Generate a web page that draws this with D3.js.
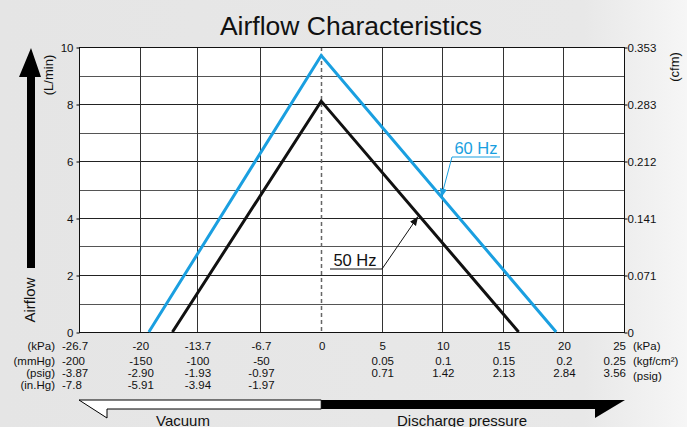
<!DOCTYPE html>
<html>
<head>
<meta charset="utf-8">
<script src="https://cdn.jsdelivr.net/npm/d3@7"></script>
<style>
  body { margin: 0; }
  svg { display: block; font-family: "Liberation Sans", Arial, sans-serif; }
</style>
</head>
<body>
<svg id="chart" width="687" height="427"></svg>
<script>
const width = 687;
const height = 427;
const margin = { top: 47, right: 63, bottom: 95, left: 79 };

// x ticks (kPa) and the extra unit rows under them
const kpaTicks = [-26.7, -20, -13.7, -6.7, 0, 5, 10, 15, 20, 25];
const kpaLabels = ["-26.7", "-20", "-13.7", "-6.7", "0", "5", "10", "15", "20", "25"];
const mmHgLabels = ["-200", "-150", "-100", "-50"];
const psigVacLabels = ["-3.87", "-2.90", "-1.93", "-0.97"];
const inHgLabels = ["-7.8", "-5.91", "-3.94", "-1.97"];
const kgfLabels = ["0.05", "0.1", "0.15", "0.2", "0.25"];
const psigLabels = ["0.71", "1.42", "2.13", "2.84", "3.56"];

const yTicks = [0, 2, 4, 6, 8, 10];
const cfmLabels = ["0", "0.071", "0.141", "0.212", "0.283", "0.353"];

// airflow (L/min) vs pressure (kPa)
const hz60 = [
  { p: -19.0, q: 0 },
  { p: 0, q: 9.7 },
  { p: 19.4, q: 0 },
];
const hz50 = [
  { p: -16.4, q: 0 },
  { p: 0, q: 8.1 },
  { p: 16.3, q: 0 },
];

const svg = d3.select("#chart");

// background
const defs = svg.append("defs");
const grad = defs.append("linearGradient")
  .attr("id", "bg").attr("x1", "0").attr("x2", "1").attr("y1", "0").attr("y2", "0");
grad.append("stop").attr("offset", "0").attr("stop-color", "#e5e5e5");
grad.append("stop").attr("offset", "0.85").attr("stop-color", "#e8e8e8");
grad.append("stop").attr("offset", "1").attr("stop-color", "#f6f6f6");
svg.append("rect").attr("width", width).attr("height", height).attr("fill", "url(#bg)");

const x0 = margin.left;
const x1 = width - margin.right;
const y0 = height - margin.bottom;
const y1 = margin.top;

// vacuum side is 4 columns, discharge side 5 columns
const colW = (x1 - x0) / 9;
const x = d3.scaleLinear()
  .domain([-26.7, 0, 25])
  .range([x0, x0 + 4 * colW, x1]);
const y = d3.scaleLinear().domain([0, 10]).range([y0, y1]);

svg.append("rect")
  .attr("x", x0).attr("y", y1)
  .attr("width", x1 - x0).attr("height", y0 - y1)
  .attr("fill", "#fff");

// grid
const grid = svg.append("g");
grid.selectAll(".hgrid")
  .data(d3.range(1, 10))
  .enter()
  .append("line")
  .attr("x1", x0).attr("x2", x1)
  .attr("y1", (d) => Math.round(y(d)) + 0.5)
  .attr("y2", (d) => Math.round(y(d)) + 0.5)
  .attr("stroke", (d) => (d % 2 === 0 ? "#222" : "#555"));
grid.selectAll(".vgrid")
  .data(kpaTicks.slice(1, -1).filter((d) => d !== 0))
  .enter()
  .append("line")
  .attr("x1", (d) => Math.round(x(d)) + 0.5)
  .attr("x2", (d) => Math.round(x(d)) + 0.5)
  .attr("y1", y1).attr("y2", y0)
  .attr("stroke", "#333");
grid.append("line")
  .attr("x1", Math.round(x(0)) + 0.5).attr("x2", Math.round(x(0)) + 0.5)
  .attr("y1", y1).attr("y2", y0)
  .attr("stroke", "#666").attr("stroke-width", 1.5)
  .attr("stroke-dasharray", "4,3");

svg.append("rect")
  .attr("x", x0 + 0.5).attr("y", y1 + 0.5)
  .attr("width", x1 - x0).attr("height", y0 - y1)
  .attr("fill", "none").attr("stroke", "#111");

// left axis
const leftAxis = svg.append("g")
  .attr("transform", "translate(" + (x0 + 0.5) + ",0.5)")
  .call(d3.axisLeft(y).tickValues(yTicks).tickSize(3).tickPadding(3).tickFormat(d3.format("d")));
leftAxis.select(".domain").remove();
leftAxis.selectAll("text").attr("font-size", 11.5).attr("fill", "#111")
  .style("font-family", "'Liberation Sans', Arial, sans-serif");

// right axis (cfm)
const rightAxis = svg.append("g")
  .attr("transform", "translate(" + (x1 + 0.5) + ",0.5)")
  .call(d3.axisRight(y).tickValues(yTicks).tickSize(3).tickPadding(0)
    .tickFormat((d, i) => cfmLabels[i]));
rightAxis.select(".domain").remove();
rightAxis.selectAll("text").attr("font-size", 11.5).attr("fill", "#111")
  .style("font-family", "'Liberation Sans', Arial, sans-serif");

// curves
const line = d3.line().x((d) => x(d.p)).y((d) => y(d.q));
svg.append("path").datum(hz60).attr("d", line)
  .attr("fill", "none").attr("stroke", "#1a9fe0").attr("stroke-width", 3);
svg.append("path").datum(hz50).attr("d", line)
  .attr("fill", "none").attr("stroke", "#111").attr("stroke-width", 3);

// arrow markers for the leader lines
["#1a9fe0", "#111"].forEach((c, i) => {
  defs.append("marker")
    .attr("id", "tip" + i)
    .attr("viewBox", "0 0 10 10")
    .attr("refX", 10).attr("refY", 5)
    .attr("markerWidth", 9).attr("markerHeight", 9)
    .attr("markerUnits", "userSpaceOnUse")
    .attr("orient", "auto")
    .append("path").attr("d", "M0,1 L10,5 L0,9 Z").attr("fill", c);
});

// 60 Hz label
const lab60 = svg.append("g");
lab60.append("text").attr("x", 476).attr("y", 154).attr("text-anchor", "middle")
  .attr("font-size", 16.5).attr("fill", "#1a9fe0").text("60 Hz");
lab60.append("line").attr("x1", 452).attr("x2", 500).attr("y1", 157).attr("y2", 157)
  .attr("stroke", "#1a9fe0").attr("stroke-width", 1);
lab60.append("line").attr("x1", 452).attr("y1", 157)
  .attr("x2", x(9.9)).attr("y2", y(9.7 * (1 - 9.9 / 19.4)) + 1)
  .attr("stroke", "#1a9fe0").attr("stroke-width", 1).attr("marker-end", "url(#tip0)");

// 50 Hz label
const lab50 = svg.append("g");
lab50.append("text").attr("x", 355).attr("y", 266).attr("text-anchor", "middle")
  .attr("font-size", 16.5).attr("fill", "#111").text("50 Hz");
lab50.append("line").attr("x1", 330).attr("x2", 382).attr("y1", 269).attr("y2", 269)
  .attr("stroke", "#111").attr("stroke-width", 1);
lab50.append("line").attr("x1", 382).attr("y1", 269)
  .attr("x2", x(8.0)).attr("y2", y(8.1 * (1 - 8.0 / 16.3)) + 2)
  .attr("stroke", "#111").attr("stroke-width", 1).attr("marker-end", "url(#tip1)");

// title
svg.append("text").attr("x", 351).attr("y", 35).attr("text-anchor", "middle")
  .attr("font-size", 26.5).attr("fill", "#111").text("Airflow Characteristics");

// axis titles
svg.append("text").attr("transform", "translate(53,75) rotate(-90)")
  .attr("text-anchor", "middle").attr("font-size", 13).attr("fill", "#111").text("(L/min)");
svg.append("text").attr("transform", "translate(35,300) rotate(-90)")
  .attr("text-anchor", "middle").attr("font-size", 15).attr("fill", "#111").text("Airflow");
svg.append("text").attr("transform", "translate(679,67) rotate(-90)")
  .attr("text-anchor", "middle").attr("font-size", 13).attr("fill", "#111").text("(cfm)");

// airflow up arrow
svg.append("path")
  .attr("d", "M27,268 L35,268 L35,77 L41,77 L31,48 L19,77 L27,77 Z")
  .attr("fill", "#000");

// bottom label rows
const rows = svg.append("g").attr("font-size", 11.5).attr("fill", "#111");
const rowY = [350, 365, 377, 389];
const unitNames = ["(kPa)", "(mmHg)", "(psig)", "(in.Hg)"];
rows.selectAll(".unit").data(unitNames).enter().append("text")
  .attr("x", 55).attr("y", (d, i) => rowY[i]).attr("text-anchor", "end").text((d) => d);

[kpaLabels.slice(0, 5), mmHgLabels, psigVacLabels, inHgLabels].forEach((labels, r) => {
  rows.selectAll(".vac" + r).data(labels).enter().append("text")
    .attr("x", (d, i) => (i === 0 ? 62 : x(kpaTicks[i]) + 1))
    .attr("y", rowY[r])
    .attr("text-anchor", (d, i) => (i === 0 ? "start" : "middle"))
    .text((d) => d);
});

const disX = kpaTicks.slice(5);
[kpaLabels.slice(5), kgfLabels, psigLabels].forEach((labels, r) => {
  rows.selectAll(".dis" + r).data(labels).enter().append("text")
    .attr("x", (d, i) => (i === 4 ? x1 + 2 : x(disX[i]) + 1))
    .attr("y", rowY[r])
    .attr("text-anchor", (d, i) => (i === 4 ? "end" : "middle"))
    .text((d) => d);
});
const rightUnits = ["(kPa)", "(kgf/cm²)", "(psig)"];
rows.selectAll(".runit").data(rightUnits).enter().append("text")
  .attr("x", 633).attr("y", (d, i) => [350, 365, 380][i]).text((d) => d);

// pressure direction arrows
svg.append("path")
  .attr("d", "M" + x0 + ",400 L" + x(0) + ",400 L" + x(0) + ",409 L107,409 L107,418 Z")
  .attr("fill", "#fff").attr("stroke", "#000").attr("stroke-width", 1);
svg.append("path")
  .attr("d", "M" + x(0) + ",400 L625,400 L595,418 L595,409 L" + x(0) + ",409 Z")
  .attr("fill", "#000");
svg.append("text").attr("x", 183).attr("y", 426).attr("text-anchor", "middle")
  .attr("font-size", 15).attr("fill", "#111").text("Vacuum");
svg.append("text").attr("x", 462).attr("y", 426).attr("text-anchor", "middle")
  .attr("font-size", 15).attr("fill", "#111").text("Discharge pressure");
</script>
</body>
</html>
